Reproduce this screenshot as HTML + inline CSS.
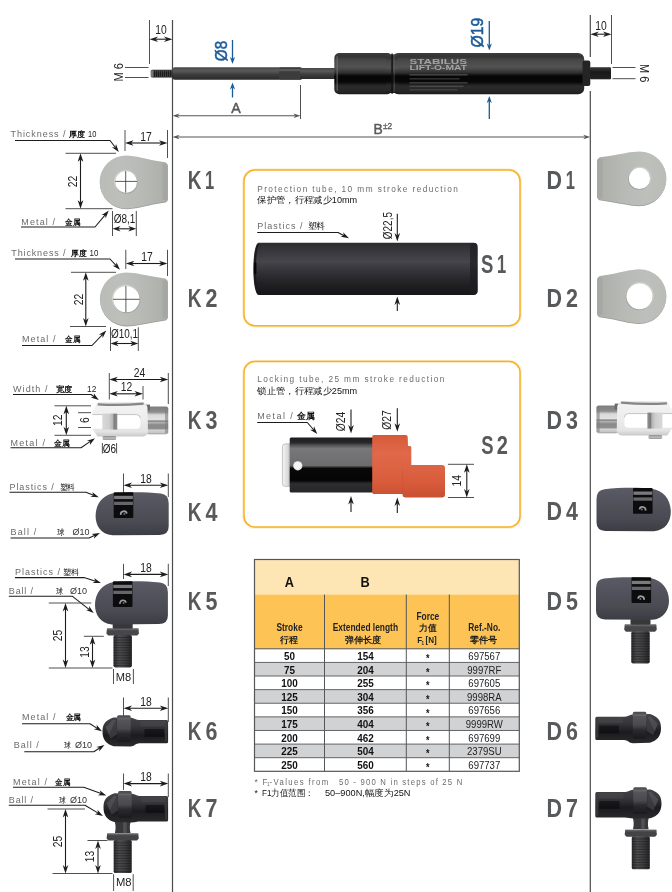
<!DOCTYPE html>
<html><head><meta charset="utf-8"><title>Gas spring end fittings</title>
<style>
html,body{margin:0;padding:0;background:#fff;}
body{width:672px;height:892px;overflow:hidden;font-family:"Liberation Sans",sans-serif;}
svg{display:block;will-change:transform;}
text{font-family:"Liberation Sans",sans-serif;}
</style></head><body>
<svg width="672" height="892" viewBox="0 0 672 892">
<rect width="672" height="892" fill="#fff"/>
<!-- top -->
<defs>
<linearGradient id="gCyl" x1="0" y1="0" x2="0" y2="1">
<stop offset="0" stop-color="#3d3d3d"/><stop offset="0.08" stop-color="#333"/>
<stop offset="0.18" stop-color="#484848"/><stop offset="0.34" stop-color="#525252"/>
<stop offset="0.47" stop-color="#333"/><stop offset="0.56" stop-color="#060606"/>
<stop offset="0.70" stop-color="#080808"/><stop offset="0.8" stop-color="#2b2b2b"/>
<stop offset="0.93" stop-color="#262626"/><stop offset="1" stop-color="#1a1a1a"/>
</linearGradient>
<linearGradient id="gRod" x1="0" y1="0" x2="0" y2="1">
<stop offset="0" stop-color="#474747"/><stop offset="0.28" stop-color="#5a5a5a"/>
<stop offset="0.62" stop-color="#3a3a3a"/><stop offset="1" stop-color="#2b2b2b"/>
</linearGradient>
<linearGradient id="gThr" x1="0" y1="0" x2="0" y2="1">
<stop offset="0" stop-color="#3a3a3a"/><stop offset="0.4" stop-color="#1a1a1a"/><stop offset="1" stop-color="#222"/>
</linearGradient>
</defs>
<path d="M172.5 20L172.5 892" stroke="#4a4a4a" stroke-width="1.2" fill="none"/>
<path d="M590.3 15L590.3 57" stroke="#4a4a4a" stroke-width="1.2" fill="none"/>
<path d="M590.3 91L590.3 892" stroke="#4a4a4a" stroke-width="1.2" fill="none"/>
<path d="M149.5 20L149.5 64" stroke="#3c3c3c" stroke-width="0.9" fill="none"/>
<path d="M155.45 39.2L166.55 39.2" stroke="#222" stroke-width="1.1" fill="none"/><path d="M172.5 39.2L164 42L166.38 39.2L164 36.4Z" fill="#222"/><path d="M149.5 39.2L158 36.4L155.62 39.2L158 42Z" fill="#222"/>
<text transform="translate(161 33.8) scale(0.86 1)" font-family="Liberation Sans, sans-serif" font-size="12" fill="#222" text-anchor="middle">10</text>
<path d="M125 67.5L148.5 67.5" stroke="#3c3c3c" stroke-width="0.9" fill="none"/>
<path d="M125 77.5L148.5 77.5" stroke="#3c3c3c" stroke-width="0.9" fill="none"/>
<text transform="translate(122.6 72.3) rotate(-90) scale(0.92 1)" font-family="Liberation Sans, sans-serif" font-size="12" fill="#222" text-anchor="middle">M 6</text>
<rect x="151" y="69.8" width="22" height="7.6" rx="1" fill="url(#gThr)"/>
<rect x="150.6" y="70.3" width="3" height="6.6" rx="1" fill="#777"/>
<rect x="155" y="69.8" width="0.8" height="7.6" fill="#555" opacity="0.7"/>
<rect x="157" y="69.8" width="0.8" height="7.6" fill="#555" opacity="0.7"/>
<rect x="159" y="69.8" width="0.8" height="7.6" fill="#555" opacity="0.7"/>
<rect x="161" y="69.8" width="0.8" height="7.6" fill="#555" opacity="0.7"/>
<rect x="163" y="69.8" width="0.8" height="7.6" fill="#555" opacity="0.7"/>
<rect x="165" y="69.8" width="0.8" height="7.6" fill="#555" opacity="0.7"/>
<rect x="167" y="69.8" width="0.8" height="7.6" fill="#555" opacity="0.7"/>
<rect x="169" y="69.8" width="0.8" height="7.6" fill="#555" opacity="0.7"/>
<rect x="171" y="69.8" width="0.8" height="7.6" fill="#555" opacity="0.7"/>
<rect x="591.5" y="67.3" width="0.8" height="12" fill="#4e4e4e" opacity="0.7"/>
<rect x="593.5" y="67.3" width="0.8" height="12" fill="#4e4e4e" opacity="0.7"/>
<rect x="595.5" y="67.3" width="0.8" height="12" fill="#4e4e4e" opacity="0.7"/>
<rect x="597.5" y="67.3" width="0.8" height="12" fill="#4e4e4e" opacity="0.7"/>
<rect x="599.5" y="67.3" width="0.8" height="12" fill="#4e4e4e" opacity="0.7"/>
<rect x="601.5" y="67.3" width="0.8" height="12" fill="#4e4e4e" opacity="0.7"/>
<rect x="603.5" y="67.3" width="0.8" height="12" fill="#4e4e4e" opacity="0.7"/>
<rect x="605.5" y="67.3" width="0.8" height="12" fill="#4e4e4e" opacity="0.7"/>
<rect x="607.5" y="67.3" width="0.8" height="12" fill="#4e4e4e" opacity="0.7"/>
<rect x="609.5" y="67.3" width="0.8" height="12" fill="#4e4e4e" opacity="0.7"/>
<rect x="172.5" y="67.2" width="130" height="12.6" rx="2.5" fill="url(#gRod)"/>
<rect x="279" y="67.6" width="23" height="11.8" rx="2" fill="#3c3c3c"/>
<rect x="279" y="69" width="22" height="2.2" fill="#5a5a5a"/>
<rect x="300" y="68" width="36" height="11" fill="url(#gRod)"/>
<rect x="334.3" y="53" width="58" height="41.3" rx="5" fill="url(#gCyl)"/>
<rect x="392.2" y="53" width="192" height="41.3" rx="6" fill="url(#gCyl)"/>
<rect x="386" y="54.5" width="12" height="38.5" fill="url(#gCyl)"/>
<rect x="391.3" y="53.5" width="1.6" height="40.3" fill="#111" opacity="0.85"/>
<rect x="336.4" y="56" width="1.6" height="35" rx="0.8" fill="#777" opacity="0.55"/>
<rect x="393.6" y="55" width="1.2" height="37" fill="#6a6a6a" opacity="0.45"/>
<rect x="582.5" y="60.5" width="7.8" height="25.5" rx="2" fill="#242424"/>
<rect x="590" y="67.3" width="21" height="12" rx="1" fill="url(#gThr)"/>
<text transform="translate(409.5 64.4)" font-family="Liberation Sans, sans-serif" font-size="6.4" fill="#a4a4a4" text-anchor="start" font-weight="bold" textLength="57.5" lengthAdjust="spacingAndGlyphs">STABILUS</text>
<text transform="translate(409.5 70.4)" font-family="Liberation Sans, sans-serif" font-size="6.4" fill="#a4a4a4" text-anchor="start" font-weight="bold" textLength="57.5" lengthAdjust="spacingAndGlyphs">LIFT-O-MAT</text>
<rect x="409.5" y="74" width="58" height="1.6" fill="#9a9a9a" opacity="0.33"/>
<rect x="409.5" y="78" width="50" height="1.6" fill="#9a9a9a" opacity="0.26"/>
<rect x="409.5" y="82" width="58" height="1.6" fill="#9a9a9a" opacity="0.3"/>
<rect x="409.5" y="85.5" width="54" height="1.6" fill="#9a9a9a" opacity="0.26"/>
<rect x="409.5" y="89" width="48" height="1.6" fill="#9a9a9a" opacity="0.2"/>
<path d="M611.5 15L611.5 64" stroke="#3c3c3c" stroke-width="0.9" fill="none"/>
<path d="M596.25 34.2L605.55 34.2" stroke="#222" stroke-width="1.1" fill="none"/><path d="M611.5 34.2L603 37L605.38 34.2L603 31.4Z" fill="#222"/><path d="M590.3 34.2L598.8 31.4L596.42 34.2L598.8 37Z" fill="#222"/>
<text transform="translate(601 29.6) scale(0.86 1)" font-family="Liberation Sans, sans-serif" font-size="12" fill="#222" text-anchor="middle">10</text>
<path d="M612.5 67.5L635.5 67.5" stroke="#3c3c3c" stroke-width="0.9" fill="none"/>
<path d="M612.5 78.7L635.5 78.7" stroke="#3c3c3c" stroke-width="0.9" fill="none"/>
<text transform="translate(640.2 73.2) rotate(90) scale(0.92 1)" font-family="Liberation Sans, sans-serif" font-size="12" fill="#222" text-anchor="middle">M 6</text>
<text transform="translate(227.4 51) rotate(-90) scale(0.95 1)" font-family="Liberation Sans, sans-serif" font-size="16" fill="#1b5a98" text-anchor="middle" stroke="#1b5a98" stroke-width="0.55">Ø8</text>
<path d="M232.5 40L232.5 59.1" stroke="#1b5a98" stroke-width="1.3" fill="none"/><path d="M232.5 64L229.9 57L232.5 58.96L235.1 57Z" fill="#1b5a98"/>
<path d="M232.5 97.5L232.5 87.4" stroke="#1b5a98" stroke-width="1.3" fill="none"/><path d="M232.5 82.5L235.1 89.5L232.5 87.54L229.9 89.5Z" fill="#1b5a98"/>
<text transform="translate(482.6 32.6) rotate(-90) scale(0.98 1)" font-family="Liberation Sans, sans-serif" font-size="16" fill="#1b5a98" text-anchor="middle" stroke="#1b5a98" stroke-width="0.55">Ø19</text>
<path d="M489.3 21L489.3 45.6" stroke="#1b5a98" stroke-width="1.3" fill="none"/><path d="M489.3 50.5L486.7 43.5L489.3 45.46L491.9 43.5Z" fill="#1b5a98"/>
<path d="M489.3 119L489.3 100.9" stroke="#1b5a98" stroke-width="1.3" fill="none"/><path d="M489.3 96L491.9 103L489.3 101.04L486.7 103Z" fill="#1b5a98"/>
<path d="M300.5 85L300.5 119" stroke="#3c3c3c" stroke-width="0.9" fill="none"/>
<path d="M177.4 115.8L295.6 115.8" stroke="#555" stroke-width="1.1" fill="none"/><path d="M300.5 115.8L293.5 118.1L295.46 115.8L293.5 113.5Z" fill="#555"/><path d="M172.5 115.8L179.5 113.5L177.54 115.8L179.5 118.1Z" fill="#555"/>
<text transform="translate(236 112.6) scale(0.95 1)" font-family="Liberation Sans, sans-serif" font-size="15" fill="#58595b" text-anchor="middle" stroke="#58595b" stroke-width="0.5">A</text>
<path d="M177.4 137L585.4 137" stroke="#555" stroke-width="1.1" fill="none"/><path d="M590.3 137L583.3 139.3L585.26 137L583.3 134.7Z" fill="#555"/><path d="M172.5 137L179.5 134.7L177.54 137L179.5 139.3Z" fill="#555"/>
<text transform="translate(373.5 134) scale(0.9 1)" font-family="Liberation Sans, sans-serif" font-size="15.4" fill="#58595b" text-anchor="start" stroke="#58595b" stroke-width="0.5">B</text>
<text transform="translate(383 128.6) scale(0.95 1)" font-family="Liberation Sans, sans-serif" font-size="8.8" fill="#58595b" text-anchor="start" stroke="#58595b" stroke-width="0.3">±2</text>
<!-- left -->
<defs>
<linearGradient id="gEye" x1="0" y1="0" x2="1" y2="0"><stop offset="0" stop-color="#babcb8"/><stop offset="0.3" stop-color="#bdbfbb"/><stop offset="0.6" stop-color="#b8bab6"/><stop offset="1" stop-color="#acaeaa"/></linearGradient>
<linearGradient id="gSock" x1="0" y1="0" x2="0" y2="1"><stop offset="0" stop-color="#5b5b66"/><stop offset="0.25" stop-color="#54545e"/><stop offset="0.7" stop-color="#4a4a53"/><stop offset="1" stop-color="#3c3c44"/></linearGradient>
<linearGradient id="gStud" x1="0" y1="0" x2="1" y2="0"><stop offset="0" stop-color="#2a2a2c"/><stop offset="0.3" stop-color="#4e4e51"/><stop offset="0.6" stop-color="#414144"/><stop offset="1" stop-color="#242426"/></linearGradient>
<linearGradient id="gMet" x1="0" y1="0" x2="0" y2="1"><stop offset="0" stop-color="#434347"/><stop offset="0.3" stop-color="#37373b"/><stop offset="0.62" stop-color="#1c1c1f"/><stop offset="1" stop-color="#2a2a2d"/></linearGradient>
<linearGradient id="gCol" x1="0" y1="0" x2="0" y2="1"><stop offset="0" stop-color="#4b4b4f"/><stop offset="0.12" stop-color="#58585c"/><stop offset="0.5" stop-color="#4a4a4e"/><stop offset="0.68" stop-color="#2a2a2d"/><stop offset="1" stop-color="#1a1a1c"/></linearGradient>
<linearGradient id="gNut" x1="0" y1="0" x2="0" y2="1"><stop offset="0" stop-color="#7e7e7e"/><stop offset="0.2" stop-color="#8c8c8c"/><stop offset="0.3" stop-color="#d9d9d9"/><stop offset="0.48" stop-color="#e2e2e2"/><stop offset="0.52" stop-color="#7c7c7c"/><stop offset="0.58" stop-color="#b4b4b4"/><stop offset="0.66" stop-color="#8a8a8a"/><stop offset="0.8" stop-color="#8e8e8e"/><stop offset="0.85" stop-color="#d4d4d4"/><stop offset="0.96" stop-color="#c4c4c4"/><stop offset="1" stop-color="#8a8a8a"/></linearGradient>
<linearGradient id="gClev" x1="0" y1="0" x2="0" y2="1"><stop offset="0" stop-color="#dcdcdc"/><stop offset="0.12" stop-color="#f2f2f2"/><stop offset="0.5" stop-color="#ededed"/><stop offset="0.85" stop-color="#e4e4e4"/><stop offset="1" stop-color="#c8c8c8"/></linearGradient>
<linearGradient id="gPin" x1="0" y1="0" x2="1" y2="0"><stop offset="0" stop-color="#d8d8d8"/><stop offset="0.45" stop-color="#cfcfcf"/><stop offset="0.7" stop-color="#b5b5b5"/><stop offset="0.78" stop-color="#7d7d7d"/><stop offset="1" stop-color="#8d8d8d"/></linearGradient>
<linearGradient id="gPinH" x1="0" y1="0" x2="0" y2="1"><stop offset="0" stop-color="#8a8a8a"/><stop offset="0.5" stop-color="#bdbdbd"/><stop offset="1" stop-color="#9a9a9a"/></linearGradient>
</defs>
<text transform="translate(10.5 137.3)" font-family="Liberation Sans, sans-serif" font-size="9" fill="#6a6b6d" text-anchor="start" textLength="55" lengthAdjust="spacing">Thickness /</text>
<text transform="translate(68.8 137.3)" font-family="Liberation Sans, sans-serif" font-size="8.2" fill="#111" text-anchor="start" font-weight="bold" textLength="16.2" lengthAdjust="spacingAndGlyphs">厚度</text>
<text transform="translate(88 137.3)" font-family="Liberation Sans, sans-serif" font-size="8.8" fill="#1a1a1a" text-anchor="start" textLength="8.3" lengthAdjust="spacingAndGlyphs">10</text>
<path d="M15 140.5L110 140.5L115.4 147.55" stroke="#1c1c1c" stroke-width="1.05" fill="none" stroke-linejoin="round"/><path d="M118.8 152L111.87 147.23L115.3 147.43L116 144.07Z" fill="#1c1c1c"/>
<path d="M125 130L125 151" stroke="#3c3c3c" stroke-width="0.9" fill="none"/>
<path d="M167.5 130L167.5 158" stroke="#3c3c3c" stroke-width="0.9" fill="none"/>
<path d="M130.95 143L161.55 143" stroke="#1c1c1c" stroke-width="1.1" fill="none"/><path d="M167.5 143L159 145.8L161.38 143L159 140.2Z" fill="#1c1c1c"/><path d="M125 143L133.5 140.2L131.12 143L133.5 145.8Z" fill="#1c1c1c"/>
<text transform="translate(146 140.6) scale(0.86 1)" font-family="Liberation Sans, sans-serif" font-size="12" fill="#222" text-anchor="middle">17</text>
<path d="M65.5 153.3L116 153.3" stroke="#3c3c3c" stroke-width="0.9" fill="none"/>
<path d="M65.5 208.7L112.5 208.7" stroke="#3c3c3c" stroke-width="0.9" fill="none"/>
<path d="M80.5 159.25L80.5 202.75" stroke="#1c1c1c" stroke-width="1.1" fill="none"/><path d="M80.5 208.7L77.7 200.2L80.5 202.58L83.3 200.2Z" fill="#1c1c1c"/><path d="M80.5 153.3L83.3 161.8L80.5 159.42L77.7 161.8Z" fill="#1c1c1c"/>
<text transform="translate(77.4 181.6) rotate(-90) scale(0.86 1)" font-family="Liberation Sans, sans-serif" font-size="12" fill="#222" text-anchor="middle">22</text>
<g><path d="M163.5 161.9C146.1 159.3 135.1 155.4 126.1 155.4A26.5 26.5 0 0 0 126.1 208.4C135.1 208.4 146.1 204.5 163.5 201.9Q167.5 201.6 167.5 197.9L167.5 165.9Q167.5 162.2 163.5 161.9Z" fill="#9b9d99" transform="translate(0.4 0.9)"/><path d="M163.5 161.9C146.1 159.3 135.1 155.4 126.1 155.4A26.5 26.5 0 0 0 126.1 208.4C135.1 208.4 146.1 204.5 163.5 201.9Q167.5 201.6 167.5 197.9L167.5 165.9Q167.5 162.2 163.5 161.9Z" fill="url(#gEye)"/><rect x="162.5" y="163.9" width="4.8" height="36" fill="#a0a29e" opacity="0.6"/><circle cx="125.8" cy="181.6" r="11.7" fill="#cfd1cd"/><circle cx="126.5" cy="182.4" r="11.3" fill="#a4a6a2"/><circle cx="126.1" cy="181.9" r="10.8" fill="#fff"/></g>
<path d="M115.2 181.4L137 181.4" stroke="#333" stroke-width="0.8" fill="none"/>
<path d="M125.7 171L125.7 192.6" stroke="#333" stroke-width="0.8" fill="none"/>
<text transform="translate(21.3 225)" font-family="Liberation Sans, sans-serif" font-size="9" fill="#6a6b6d" text-anchor="start" textLength="33.7" lengthAdjust="spacing">Metal /</text>
<text transform="translate(65 225)" font-family="Liberation Sans, sans-serif" font-size="8.2" fill="#111" text-anchor="start" font-weight="bold" textLength="15.2" lengthAdjust="spacingAndGlyphs">金属</text>
<path d="M21 227L95 227L105.21 214.8" stroke="#1c1c1c" stroke-width="1.05" fill="none" stroke-linejoin="round"/><path d="M108.8 210.5L105.66 218.3L105.1 214.92L101.67 214.97Z" fill="#1c1c1c"/>
<path d="M112.5 211L112.5 236" stroke="#3c3c3c" stroke-width="0.9" fill="none"/>
<path d="M136.3 211L136.3 236" stroke="#3c3c3c" stroke-width="0.9" fill="none"/>
<path d="M118.1 228.8L130.7 228.8" stroke="#1c1c1c" stroke-width="1.1" fill="none"/><path d="M136.3 228.8L128.3 231.5L130.54 228.8L128.3 226.1Z" fill="#1c1c1c"/><path d="M112.5 228.8L120.5 226.1L118.26 228.8L120.5 231.5Z" fill="#1c1c1c"/>
<text transform="translate(124.6 223) scale(0.83 1)" font-family="Liberation Sans, sans-serif" font-size="12" fill="#222" text-anchor="middle">Ø8,1</text>
<text transform="translate(187.75 188.8) scale(0.76 1)" font-family="Liberation Sans, sans-serif" font-size="25" fill="#58595b" text-anchor="start" font-weight="bold">K</text><text transform="translate(204.95 188.8) scale(0.66 1)" font-family="Liberation Sans, sans-serif" font-size="25" fill="#58595b" text-anchor="start" font-weight="bold">1</text>
<text transform="translate(11.3 256)" font-family="Liberation Sans, sans-serif" font-size="9" fill="#6a6b6d" text-anchor="start" textLength="54.2" lengthAdjust="spacing">Thickness /</text>
<text transform="translate(70.8 256)" font-family="Liberation Sans, sans-serif" font-size="8.2" fill="#111" text-anchor="start" font-weight="bold" textLength="15.6" lengthAdjust="spacingAndGlyphs">厚度</text>
<text transform="translate(89.5 256)" font-family="Liberation Sans, sans-serif" font-size="8.8" fill="#1a1a1a" text-anchor="start" textLength="8.8" lengthAdjust="spacingAndGlyphs">10</text>
<path d="M15 259L110 259L116.2 265.69" stroke="#1c1c1c" stroke-width="1.05" fill="none" stroke-linejoin="round"/><path d="M120 269.8L112.66 265.7L116.09 265.57L116.47 262.16Z" fill="#1c1c1c"/>
<path d="M125.8 249.8L125.8 269" stroke="#3c3c3c" stroke-width="0.9" fill="none"/>
<path d="M167.5 249.8L167.5 276" stroke="#3c3c3c" stroke-width="0.9" fill="none"/>
<path d="M131.75 263.5L161.55 263.5" stroke="#1c1c1c" stroke-width="1.1" fill="none"/><path d="M167.5 263.5L159 266.3L161.38 263.5L159 260.7Z" fill="#1c1c1c"/><path d="M125.8 263.5L134.3 260.7L131.92 263.5L134.3 266.3Z" fill="#1c1c1c"/>
<text transform="translate(147 261) scale(0.86 1)" font-family="Liberation Sans, sans-serif" font-size="12" fill="#222" text-anchor="middle">17</text>
<path d="M71 272.3L116 272.3" stroke="#3c3c3c" stroke-width="0.9" fill="none"/>
<path d="M70 326.5L106 326.5" stroke="#3c3c3c" stroke-width="0.9" fill="none"/>
<path d="M85.8 278.25L85.8 320.55" stroke="#1c1c1c" stroke-width="1.1" fill="none"/><path d="M85.8 326.5L83 318L85.8 320.38L88.6 318Z" fill="#1c1c1c"/><path d="M85.8 272.3L88.6 280.8L85.8 278.42L83 280.8Z" fill="#1c1c1c"/>
<text transform="translate(82.8 299.5) rotate(-90) scale(0.86 1)" font-family="Liberation Sans, sans-serif" font-size="12" fill="#222" text-anchor="middle">22</text>
<g><path d="M163.5 278.3C146.3 275.7 135.3 272.6 126.3 272.6A26.5 26.5 0 0 0 126.3 325.6C135.3 325.6 146.3 322.5 163.5 319.9Q167.5 319.6 167.5 315.9L167.5 282.3Q167.5 278.6 163.5 278.3Z" fill="#9b9d99" transform="translate(0.4 0.9)"/><path d="M163.5 278.3C146.3 275.7 135.3 272.6 126.3 272.6A26.5 26.5 0 0 0 126.3 325.6C135.3 325.6 146.3 322.5 163.5 319.9Q167.5 319.6 167.5 315.9L167.5 282.3Q167.5 278.6 163.5 278.3Z" fill="url(#gEye)"/><rect x="162.5" y="280.3" width="4.8" height="37.6" fill="#a0a29e" opacity="0.6"/><circle cx="126" cy="298.8" r="14.1" fill="#cfd1cd"/><circle cx="126.7" cy="299.6" r="13.7" fill="#a4a6a2"/><circle cx="126.3" cy="299.1" r="13.2" fill="#fff"/></g>
<path d="M113 299.3L139.6 299.3" stroke="#333" stroke-width="0.8" fill="none"/>
<path d="M125.9 286L125.9 312.4" stroke="#333" stroke-width="0.8" fill="none"/>
<text transform="translate(22 342.2)" font-family="Liberation Sans, sans-serif" font-size="9" fill="#6a6b6d" text-anchor="start" textLength="33.5" lengthAdjust="spacing">Metal /</text>
<text transform="translate(65 342.2)" font-family="Liberation Sans, sans-serif" font-size="8.2" fill="#111" text-anchor="start" font-weight="bold" textLength="15.2" lengthAdjust="spacingAndGlyphs">金属</text>
<path d="M22 345.5L92 345.5L102.44 334.55" stroke="#1c1c1c" stroke-width="1.05" fill="none" stroke-linejoin="round"/><path d="M106.3 330.5L102.66 338.08L102.33 334.67L98.9 334.5Z" fill="#1c1c1c"/>
<path d="M110.5 327.3L110.5 351" stroke="#3c3c3c" stroke-width="0.9" fill="none"/>
<path d="M138.3 327.3L138.3 351" stroke="#3c3c3c" stroke-width="0.9" fill="none"/>
<path d="M116.1 343.5L132.7 343.5" stroke="#1c1c1c" stroke-width="1.1" fill="none"/><path d="M138.3 343.5L130.3 346.2L132.54 343.5L130.3 340.8Z" fill="#1c1c1c"/><path d="M110.5 343.5L118.5 340.8L116.26 343.5L118.5 346.2Z" fill="#1c1c1c"/>
<text transform="translate(124.6 337.8) scale(0.83 1)" font-family="Liberation Sans, sans-serif" font-size="12" fill="#222" text-anchor="middle">Ø10,1</text>
<text transform="translate(187.75 307.3) scale(0.76 1)" font-family="Liberation Sans, sans-serif" font-size="25" fill="#58595b" text-anchor="start" font-weight="bold">K</text><text transform="translate(205.55 307.3) scale(0.86 1)" font-family="Liberation Sans, sans-serif" font-size="25" fill="#58595b" text-anchor="start" font-weight="bold">2</text>
<path d="M109.3 373L109.3 399.5" stroke="#3c3c3c" stroke-width="0.9" fill="none"/>
<path d="M168.3 373L168.3 404" stroke="#3c3c3c" stroke-width="0.9" fill="none"/>
<path d="M115.25 379.5L162.35 379.5" stroke="#1c1c1c" stroke-width="1.1" fill="none"/><path d="M168.3 379.5L159.8 382.3L162.18 379.5L159.8 376.7Z" fill="#1c1c1c"/><path d="M109.3 379.5L117.8 376.7L115.42 379.5L117.8 382.3Z" fill="#1c1c1c"/>
<text transform="translate(139.5 377) scale(0.86 1)" font-family="Liberation Sans, sans-serif" font-size="12" fill="#222" text-anchor="middle">24</text>
<path d="M143 386L143 399.5" stroke="#3c3c3c" stroke-width="0.9" fill="none"/>
<path d="M115.25 393.8L137.05 393.8" stroke="#1c1c1c" stroke-width="1.1" fill="none"/><path d="M143 393.8L134.5 396.6L136.88 393.8L134.5 391Z" fill="#1c1c1c"/><path d="M109.3 393.8L117.8 391L115.42 393.8L117.8 396.6Z" fill="#1c1c1c"/>
<text transform="translate(126.6 390.8) scale(0.86 1)" font-family="Liberation Sans, sans-serif" font-size="12" fill="#222" text-anchor="middle">12</text>
<text transform="translate(13 392)" font-family="Liberation Sans, sans-serif" font-size="9" fill="#6a6b6d" text-anchor="start" textLength="34.5" lengthAdjust="spacing">Width /</text>
<text transform="translate(55.5 392)" font-family="Liberation Sans, sans-serif" font-size="8.2" fill="#111" text-anchor="start" font-weight="bold" textLength="16.5" lengthAdjust="spacingAndGlyphs">宽度</text>
<text transform="translate(87 392)" font-family="Liberation Sans, sans-serif" font-size="8.8" fill="#1a1a1a" text-anchor="start" textLength="9.3" lengthAdjust="spacingAndGlyphs">12</text>
<path d="M13 394.5L91 394.5L94.22 396.77" stroke="#1c1c1c" stroke-width="1.05" fill="none" stroke-linejoin="round"/><path d="M98.8 400L90.76 397.51L94.09 396.68L93.76 393.26Z" fill="#1c1c1c"/>
<path d="M54.5 405.8L91 405.8" stroke="#3c3c3c" stroke-width="0.9" fill="none"/>
<path d="M54.5 435.3L91 435.3" stroke="#3c3c3c" stroke-width="0.9" fill="none"/>
<path d="M66.3 411.75L66.3 429.35" stroke="#1c1c1c" stroke-width="1.1" fill="none"/><path d="M66.3 435.3L63.5 426.8L66.3 429.18L69.1 426.8Z" fill="#1c1c1c"/><path d="M66.3 405.8L69.1 414.3L66.3 411.92L63.5 414.3Z" fill="#1c1c1c"/>
<text transform="translate(62.4 420.3) rotate(-90) scale(0.86 1)" font-family="Liberation Sans, sans-serif" font-size="12" fill="#222" text-anchor="middle">12</text>
<path d="M78.1 412.7L91 412.7" stroke="#3c3c3c" stroke-width="0.9" fill="none"/>
<path d="M78.1 427.5L91 427.5" stroke="#3c3c3c" stroke-width="0.9" fill="none"/>
<text transform="translate(88.7 420.2) rotate(-90) scale(0.86 1)" font-family="Liberation Sans, sans-serif" font-size="12" fill="#222" text-anchor="middle">6</text>
<g><rect x="146.5" y="406.6" width="21.7" height="27.6" rx="2" fill="url(#gNut)"/><rect x="165" y="408" width="3.2" height="25" fill="#7f7f7f" opacity="0.6"/><rect x="145" y="404.6" width="5" height="6" fill="#6a6a6a"/><path d="M97.5 402.6L142 402.2Q146 402.4 147.4 407L148 432Q147 436.4 142.5 436.6L97.5 436.6L92.3 428.8L92.3 411.5Z" fill="url(#gClev)"/><path d="M97.8 404.3Q120 405.8 143.6 403.6" stroke="#868686" stroke-width="2.2" fill="none"/><path d="M91 414.6L136.5 414.6Q140.3 414.8 140.3 418.5L140.3 425Q140.3 428.6 136.5 428.8L91 428.8Z" fill="#fff"/><path d="M92.3 414.6L136.5 414.6Q140.3 414.8 140.3 418.5" stroke="#b5b5b5" stroke-width="0.8" fill="none"/><rect x="102.3" y="413.6" width="15" height="16" fill="url(#gPin)"/><rect x="102.6" y="436" width="13.6" height="4" rx="1.3" fill="url(#gPinH)"/></g>
<text transform="translate(10.5 445.6)" font-family="Liberation Sans, sans-serif" font-size="9" fill="#6a6b6d" text-anchor="start" textLength="34.5" lengthAdjust="spacing">Metal /</text>
<text transform="translate(53.8 445.6)" font-family="Liberation Sans, sans-serif" font-size="8.2" fill="#111" text-anchor="start" font-weight="bold" textLength="15.7" lengthAdjust="spacingAndGlyphs">金属</text>
<path d="M10.5 447.8L81 447.8L90.37 441.44" stroke="#1c1c1c" stroke-width="1.05" fill="none" stroke-linejoin="round"/><path d="M95 438.3L89.84 444.94L90.23 441.53L86.92 440.64Z" fill="#1c1c1c"/>
<path d="M102.4 443L102.4 453.5" stroke="#3c3c3c" stroke-width="0.9" fill="none"/>
<path d="M116.6 443L116.6 453.5" stroke="#3c3c3c" stroke-width="0.9" fill="none"/>
<text transform="translate(109.5 452.6) scale(0.83 1)" font-family="Liberation Sans, sans-serif" font-size="12" fill="#222" text-anchor="middle">Ø6</text>
<text transform="translate(187.75 428.8) scale(0.76 1)" font-family="Liberation Sans, sans-serif" font-size="25" fill="#58595b" text-anchor="start" font-weight="bold">K</text><text transform="translate(205.55 428.8) scale(0.86 1)" font-family="Liberation Sans, sans-serif" font-size="25" fill="#58595b" text-anchor="start" font-weight="bold">3</text>
<path d="M123.5 473.5L123.5 497" stroke="#3c3c3c" stroke-width="0.9" fill="none"/>
<path d="M168.3 473.5L168.3 497" stroke="#3c3c3c" stroke-width="0.9" fill="none"/>
<path d="M129.45 485.3L162.35 485.3" stroke="#1c1c1c" stroke-width="1.1" fill="none"/><path d="M168.3 485.3L159.8 488.1L162.18 485.3L159.8 482.5Z" fill="#1c1c1c"/><path d="M123.5 485.3L132 482.5L129.62 485.3L132 488.1Z" fill="#1c1c1c"/>
<text transform="translate(146 483) scale(0.86 1)" font-family="Liberation Sans, sans-serif" font-size="12" fill="#222" text-anchor="middle">18</text>
<text transform="translate(9.5 489.8)" font-family="Liberation Sans, sans-serif" font-size="9" fill="#6a6b6d" text-anchor="start" textLength="44.3" lengthAdjust="spacing">Plastics /</text>
<text transform="translate(59.5 489.8)" font-family="Liberation Sans, sans-serif" font-size="8.2" fill="#111" text-anchor="start" textLength="15.5" lengthAdjust="spacingAndGlyphs">塑料</text>
<path d="M9.5 492.3L86 492.3L93.58 495.26" stroke="#1c1c1c" stroke-width="1.05" fill="none" stroke-linejoin="round"/><path d="M98.8 497.3L90.4 496.81L93.43 495.2L92.29 491.97Z" fill="#1c1c1c"/>
<g><path d="M114.6 493.1C125.6 491.9 145.6 491.7 160.7 493.5Q168.7 494.3 168.7 503.3L168.7 526.2Q168.7 534.7 159.7 534.9L112.6 535.2C100.6 534.2 95.6 525.2 95.6 515.89C95.6 504.3 102.6 494.8 114.6 493.1Z" fill="url(#gSock)"/><rect x="113.7" y="492.3" width="19.6" height="25.8" rx="1" fill="#0c0c0e"/><rect x="114.1" y="495.8" width="18.8" height="3.3" fill="#7b7b7f"/><rect x="114.1" y="501.7" width="18.8" height="3.3" fill="#66666a"/><path d="M120.8 514.9A3 3 0 1 1 126.8 513.7" stroke="#9c9ca2" stroke-width="1.7" fill="none"/><circle cx="124.4" cy="513.9" r="1" fill="#6e6e73"/></g>
<text transform="translate(10.5 535)" font-family="Liberation Sans, sans-serif" font-size="9" fill="#6a6b6d" text-anchor="start" textLength="25.8" lengthAdjust="spacing">Ball /</text>
<text transform="translate(57 535)" font-family="Liberation Sans, sans-serif" font-size="8.2" fill="#111" text-anchor="start" textLength="7.5" lengthAdjust="spacingAndGlyphs">球</text>
<text transform="translate(72.5 535)" font-family="Liberation Sans, sans-serif" font-size="9" fill="#333" text-anchor="start" textLength="17" lengthAdjust="spacingAndGlyphs">Ø10</text>
<path d="M10.5 538L89 538L94.9 535.32" stroke="#1c1c1c" stroke-width="1.05" fill="none" stroke-linejoin="round"/><path d="M100 533L93.79 538.68L94.76 535.38L91.64 533.94Z" fill="#1c1c1c"/>
<text transform="translate(187.75 520.5) scale(0.76 1)" font-family="Liberation Sans, sans-serif" font-size="25" fill="#58595b" text-anchor="start" font-weight="bold">K</text><text transform="translate(205.55 520.5) scale(0.86 1)" font-family="Liberation Sans, sans-serif" font-size="25" fill="#58595b" text-anchor="start" font-weight="bold">4</text>
<path d="M123.5 563.8L123.5 579" stroke="#3c3c3c" stroke-width="0.9" fill="none"/>
<path d="M168.3 563.8L168.3 586" stroke="#3c3c3c" stroke-width="0.9" fill="none"/>
<path d="M129.45 574.4L162.35 574.4" stroke="#1c1c1c" stroke-width="1.1" fill="none"/><path d="M168.3 574.4L159.8 577.2L162.18 574.4L159.8 571.6Z" fill="#1c1c1c"/><path d="M123.5 574.4L132 571.6L129.62 574.4L132 577.2Z" fill="#1c1c1c"/>
<text transform="translate(146 572) scale(0.86 1)" font-family="Liberation Sans, sans-serif" font-size="12" fill="#222" text-anchor="middle">18</text>
<text transform="translate(15 575.4)" font-family="Liberation Sans, sans-serif" font-size="9" fill="#6a6b6d" text-anchor="start" textLength="45" lengthAdjust="spacing">Plastics /</text>
<text transform="translate(62.5 575.4)" font-family="Liberation Sans, sans-serif" font-size="8.2" fill="#111" text-anchor="start" textLength="16.2" lengthAdjust="spacingAndGlyphs">塑料</text>
<path d="M15 577.6L84 577.6L95.66 581.3" stroke="#1c1c1c" stroke-width="1.05" fill="none" stroke-linejoin="round"/><path d="M101 583L92.59 583.06L95.51 581.26L94.16 578.1Z" fill="#1c1c1c"/>
<text transform="translate(8.8 593.6)" font-family="Liberation Sans, sans-serif" font-size="9" fill="#6a6b6d" text-anchor="start" textLength="24.2" lengthAdjust="spacing">Ball /</text>
<text transform="translate(55.5 593.6)" font-family="Liberation Sans, sans-serif" font-size="8.2" fill="#111" text-anchor="start" textLength="7" lengthAdjust="spacingAndGlyphs">球</text>
<text transform="translate(70 593.6)" font-family="Liberation Sans, sans-serif" font-size="9" fill="#333" text-anchor="start" textLength="17" lengthAdjust="spacingAndGlyphs">Ø10</text>
<path d="M8.8 596.3L72.5 596.3L89.39 609.54" stroke="#1c1c1c" stroke-width="1.05" fill="none" stroke-linejoin="round"/><path d="M93.8 613L85.9 610.11L89.27 609.45L89.11 606.02Z" fill="#1c1c1c"/>
<rect x="112.7" y="621.9" width="20" height="7" rx="1.5" fill="#38383b"/><path d="M107 628.4h31.4l0.6 5.2l-1.8 2h-29l-1.8 -2z" fill="#47474a"/><rect x="107" y="628.6" width="31.4" height="1.6" fill="#626265"/><rect x="113.5" y="635.1" width="18.4" height="32.3" rx="1.8" fill="url(#gStud)"/><rect x="113.5" y="637" width="18.4" height="1" fill="#1e1e1e" opacity="0.55"/><rect x="113.5" y="639.55" width="18.4" height="1" fill="#1e1e1e" opacity="0.55"/><rect x="113.5" y="642.1" width="18.4" height="1" fill="#1e1e1e" opacity="0.55"/><rect x="113.5" y="644.65" width="18.4" height="1" fill="#1e1e1e" opacity="0.55"/><rect x="113.5" y="647.2" width="18.4" height="1" fill="#1e1e1e" opacity="0.55"/><rect x="113.5" y="649.75" width="18.4" height="1" fill="#1e1e1e" opacity="0.55"/><rect x="113.5" y="652.3" width="18.4" height="1" fill="#1e1e1e" opacity="0.55"/><rect x="113.5" y="654.85" width="18.4" height="1" fill="#1e1e1e" opacity="0.55"/><rect x="113.5" y="657.4" width="18.4" height="1" fill="#1e1e1e" opacity="0.55"/><rect x="113.5" y="659.95" width="18.4" height="1" fill="#1e1e1e" opacity="0.55"/><rect x="113.5" y="662.5" width="18.4" height="1" fill="#1e1e1e" opacity="0.55"/><rect x="113.5" y="665.05" width="18.4" height="1" fill="#1e1e1e" opacity="0.55"/>
<g><path d="M114 582.1C125 580.9 145 580.7 159.9 582.5Q167.9 583.3 167.9 592.3L167.9 615.4Q167.9 623.9 158.9 624.1L112 624.4C100 623.4 95 614.4 95 605C95 593.3 102 583.8 114 582.1Z" fill="url(#gSock)"/><rect x="112.9" y="581.3" width="19.6" height="25.8" rx="1" fill="#0c0c0e"/><rect x="113.3" y="584.8" width="18.8" height="3.3" fill="#7b7b7f"/><rect x="113.3" y="590.7" width="18.8" height="3.3" fill="#66666a"/><path d="M120 603.9A3 3 0 1 1 126 602.7" stroke="#9c9ca2" stroke-width="1.7" fill="none"/><circle cx="123.6" cy="602.9" r="1" fill="#6e6e73"/></g>
<path d="M48.8 603L91.3 603" stroke="#3c3c3c" stroke-width="0.9" fill="none"/>
<path d="M48.8 668L112.5 668" stroke="#3c3c3c" stroke-width="0.9" fill="none"/>
<path d="M65.5 608.95L65.5 662.05" stroke="#1c1c1c" stroke-width="1.1" fill="none"/><path d="M65.5 668L62.7 659.5L65.5 661.88L68.3 659.5Z" fill="#1c1c1c"/><path d="M65.5 603L68.3 611.5L65.5 609.12L62.7 611.5Z" fill="#1c1c1c"/>
<text transform="translate(62.4 635.6) rotate(-90) scale(0.86 1)" font-family="Liberation Sans, sans-serif" font-size="12" fill="#222" text-anchor="middle">25</text>
<path d="M83.8 636.3L103.8 636.3" stroke="#3c3c3c" stroke-width="0.9" fill="none"/>
<path d="M92.5 642.25L92.5 662.05" stroke="#1c1c1c" stroke-width="1.1" fill="none"/><path d="M92.5 668L89.7 659.5L92.5 661.88L95.3 659.5Z" fill="#1c1c1c"/><path d="M92.5 636.3L95.3 644.8L92.5 642.42L89.7 644.8Z" fill="#1c1c1c"/>
<text transform="translate(89.4 652) rotate(-90) scale(0.86 1)" font-family="Liberation Sans, sans-serif" font-size="12" fill="#222" text-anchor="middle">13</text>
<path d="M113.5 669L113.5 684" stroke="#3c3c3c" stroke-width="0.9" fill="none"/>
<path d="M133.4 669L133.4 684" stroke="#3c3c3c" stroke-width="0.9" fill="none"/>
<text transform="translate(115.8 680.8)" font-family="Liberation Sans, sans-serif" font-size="11.6" fill="#222" text-anchor="start" textLength="15.4" lengthAdjust="spacingAndGlyphs">M8</text>
<text transform="translate(187.75 609.6) scale(0.76 1)" font-family="Liberation Sans, sans-serif" font-size="25" fill="#58595b" text-anchor="start" font-weight="bold">K</text><text transform="translate(205.55 609.6) scale(0.86 1)" font-family="Liberation Sans, sans-serif" font-size="25" fill="#58595b" text-anchor="start" font-weight="bold">5</text>
<path d="M123.5 697.5L123.5 718.5" stroke="#3c3c3c" stroke-width="0.9" fill="none"/>
<path d="M168.3 697.5L168.3 722" stroke="#3c3c3c" stroke-width="0.9" fill="none"/>
<path d="M129.45 708.3L162.35 708.3" stroke="#1c1c1c" stroke-width="1.1" fill="none"/><path d="M168.3 708.3L159.8 711.1L162.18 708.3L159.8 705.5Z" fill="#1c1c1c"/><path d="M123.5 708.3L132 705.5L129.62 708.3L132 711.1Z" fill="#1c1c1c"/>
<text transform="translate(146 705.6) scale(0.86 1)" font-family="Liberation Sans, sans-serif" font-size="12" fill="#222" text-anchor="middle">18</text>
<text transform="translate(22 719.5)" font-family="Liberation Sans, sans-serif" font-size="9" fill="#6a6b6d" text-anchor="start" textLength="33.5" lengthAdjust="spacing">Metal /</text>
<text transform="translate(65.5 719.5)" font-family="Liberation Sans, sans-serif" font-size="8.2" fill="#111" text-anchor="start" font-weight="bold" textLength="15.7" lengthAdjust="spacingAndGlyphs">金属</text>
<path d="M22 723.8L90 723.8L97.25 728.33" stroke="#1c1c1c" stroke-width="1.05" fill="none" stroke-linejoin="round"/><path d="M102 731.3L93.84 729.26L97.12 728.25L96.59 724.86Z" fill="#1c1c1c"/>
<text transform="translate(13.8 748.2)" font-family="Liberation Sans, sans-serif" font-size="9" fill="#6a6b6d" text-anchor="start" textLength="25" lengthAdjust="spacing">Ball /</text>
<text transform="translate(63.8 748.2)" font-family="Liberation Sans, sans-serif" font-size="8.2" fill="#111" text-anchor="start" textLength="6.8" lengthAdjust="spacingAndGlyphs">球</text>
<text transform="translate(75 748.2)" font-family="Liberation Sans, sans-serif" font-size="9" fill="#333" text-anchor="start" textLength="17" lengthAdjust="spacingAndGlyphs">Ø10</text>
<path d="M24.3 751.8L93.8 751.8L99.77 748" stroke="#1c1c1c" stroke-width="1.05" fill="none" stroke-linejoin="round"/><path d="M104.5 745L99.14 751.49L99.64 748.09L96.35 747.1Z" fill="#1c1c1c"/>
<g><path d="M113.5 717.4L131 717.8C134.5 718.2 135.5 720.1 140.5 720.1L166.6 720.1Q168.1 720.1 168.1 721.6L168.1 741.8Q168.1 743.3 166.6 743.3L139.5 743.3C135.5 743.3 134.5 746.4 130.5 746.6L113.5 746.2C106.5 744.1 102.5 740 102.5 731.5C102.5 723.5 106 719.9 113.5 717.4Z" fill="url(#gMet)"/><path d="M105.7 727.5L113 719.6L115.9 720.4L109 735Z" fill="#55555a" opacity="0.75"/><path d="M109 735L115.9 720.4L117 734.5L110.5 738.5Z" fill="#3e3e43" opacity="0.8"/><rect x="117.1" y="715.2" width="13.6" height="26.9" rx="1.6" fill="url(#gCol)"/><rect x="117.5" y="717.8" width="12.8" height="1.6" fill="#6a6a6e" opacity="0.8"/><rect x="140.5" y="720.9" width="26.1" height="5.4" fill="#48484d" opacity="0.55"/><rect x="144.5" y="729" width="19.6" height="8" rx="1" fill="#08080a" opacity="0.55"/><rect x="165.1" y="722.1" width="2.2" height="19.2" fill="#3c3c40" opacity="0.8"/></g>
<text transform="translate(187.75 740.2) scale(0.76 1)" font-family="Liberation Sans, sans-serif" font-size="25" fill="#58595b" text-anchor="start" font-weight="bold">K</text><text transform="translate(205.55 740.2) scale(0.86 1)" font-family="Liberation Sans, sans-serif" font-size="25" fill="#58595b" text-anchor="start" font-weight="bold">6</text>
<path d="M123.5 773.5L123.5 790" stroke="#3c3c3c" stroke-width="0.9" fill="none"/>
<path d="M168.3 773.5L168.3 797" stroke="#3c3c3c" stroke-width="0.9" fill="none"/>
<path d="M129.45 783.6L162.35 783.6" stroke="#1c1c1c" stroke-width="1.1" fill="none"/><path d="M168.3 783.6L159.8 786.4L162.18 783.6L159.8 780.8Z" fill="#1c1c1c"/><path d="M123.5 783.6L132 780.8L129.62 783.6L132 786.4Z" fill="#1c1c1c"/>
<text transform="translate(146 781.4) scale(0.86 1)" font-family="Liberation Sans, sans-serif" font-size="12" fill="#222" text-anchor="middle">18</text>
<text transform="translate(13 785.2)" font-family="Liberation Sans, sans-serif" font-size="9" fill="#6a6b6d" text-anchor="start" textLength="34" lengthAdjust="spacing">Metal /</text>
<text transform="translate(55 785.2)" font-family="Liberation Sans, sans-serif" font-size="8.2" fill="#111" text-anchor="start" font-weight="bold" textLength="15" lengthAdjust="spacingAndGlyphs">金属</text>
<path d="M13 787.3L83.8 787.3L101.04 793.58" stroke="#1c1c1c" stroke-width="1.05" fill="none" stroke-linejoin="round"/><path d="M106.3 795.5L97.89 795.2L100.89 793.53L99.67 790.32Z" fill="#1c1c1c"/>
<text transform="translate(8.8 803)" font-family="Liberation Sans, sans-serif" font-size="9" fill="#6a6b6d" text-anchor="start" textLength="24.2" lengthAdjust="spacing">Ball /</text>
<text transform="translate(58.8 803)" font-family="Liberation Sans, sans-serif" font-size="8.2" fill="#111" text-anchor="start" textLength="6.8" lengthAdjust="spacingAndGlyphs">球</text>
<text transform="translate(70 803)" font-family="Liberation Sans, sans-serif" font-size="9" fill="#333" text-anchor="start" textLength="17" lengthAdjust="spacingAndGlyphs">Ø10</text>
<path d="M8.8 805.3L85 805.3L98.19 813.14" stroke="#1c1c1c" stroke-width="1.05" fill="none" stroke-linejoin="round"/><path d="M103 816L94.79 814.15L98.05 813.06L97.45 809.68Z" fill="#1c1c1c"/>
<path d="M114.3 820.5q2.2 6 0.6 12.5h15.6q-1.6 -6.5 0.6 -12.5z" fill="#38383b"/><rect x="123.2" y="822" width="3.4" height="11" fill="#58585d" opacity="0.8"/><path d="M107.2 833.5h31l0.6 5l-1.8 2h-28.6l-1.8 -2z" fill="#434346"/><rect x="107.2" y="833.7" width="31" height="1.5" fill="#5e5e62"/><rect x="113.7" y="840" width="18" height="33" rx="1.5" fill="url(#gStud)"/><rect x="113.7" y="842.3" width="18" height="1" fill="#1c1c1c" opacity="0.55"/><rect x="113.7" y="844.9" width="18" height="1" fill="#1c1c1c" opacity="0.55"/><rect x="113.7" y="847.5" width="18" height="1" fill="#1c1c1c" opacity="0.55"/><rect x="113.7" y="850.1" width="18" height="1" fill="#1c1c1c" opacity="0.55"/><rect x="113.7" y="852.7" width="18" height="1" fill="#1c1c1c" opacity="0.55"/><rect x="113.7" y="855.3" width="18" height="1" fill="#1c1c1c" opacity="0.55"/><rect x="113.7" y="857.9" width="18" height="1" fill="#1c1c1c" opacity="0.55"/><rect x="113.7" y="860.5" width="18" height="1" fill="#1c1c1c" opacity="0.55"/><rect x="113.7" y="863.1" width="18" height="1" fill="#1c1c1c" opacity="0.55"/><rect x="113.7" y="865.7" width="18" height="1" fill="#1c1c1c" opacity="0.55"/><rect x="113.7" y="868.3" width="18" height="1" fill="#1c1c1c" opacity="0.55"/><rect x="113.7" y="870.9" width="18" height="1" fill="#1c1c1c" opacity="0.55"/>
<g><path d="M114.5 793.3L132 793.7C135.5 794.1 136.5 796 141.5 796L166.6 796Q168.1 796 168.1 797.5L168.1 820.1Q168.1 821.6 166.6 821.6L140.5 821.6C136.5 821.6 135.5 822.3 131.5 822.5L114.5 822.1C107.5 820 103.5 815.9 103.5 807.4C103.5 799.4 107 795.8 114.5 793.3Z" fill="url(#gMet)"/><path d="M106.7 803.4L114 795.5L116.9 796.3L110 810.9Z" fill="#55555a" opacity="0.75"/><path d="M110 810.9L116.9 796.3L118 810.4L111.5 814.4Z" fill="#3e3e43" opacity="0.8"/><rect x="118.1" y="791.1" width="13.6" height="26.9" rx="1.6" fill="url(#gCol)"/><rect x="118.5" y="793.7" width="12.8" height="1.6" fill="#6a6a6e" opacity="0.8"/><rect x="141.5" y="796.8" width="25.1" height="5.4" fill="#48484d" opacity="0.55"/><rect x="145.5" y="804.9" width="18.6" height="8" rx="1" fill="#08080a" opacity="0.55"/><rect x="165.1" y="798" width="2.2" height="21.6" fill="#3c3c40" opacity="0.8"/></g>
<path d="M47.5 809L85 809" stroke="#3c3c3c" stroke-width="0.9" fill="none"/>
<path d="M52.5 873.5L112.5 873.5" stroke="#3c3c3c" stroke-width="0.9" fill="none"/>
<path d="M65.5 814.95L65.5 867.55" stroke="#1c1c1c" stroke-width="1.1" fill="none"/><path d="M65.5 873.5L62.7 865L65.5 867.38L68.3 865Z" fill="#1c1c1c"/><path d="M65.5 809L68.3 817.5L65.5 815.12L62.7 817.5Z" fill="#1c1c1c"/>
<text transform="translate(62.4 841.6) rotate(-90) scale(0.86 1)" font-family="Liberation Sans, sans-serif" font-size="12" fill="#222" text-anchor="middle">25</text>
<path d="M87.5 840.5L107.5 840.5" stroke="#3c3c3c" stroke-width="0.9" fill="none"/>
<path d="M98 846.45L98 867.55" stroke="#1c1c1c" stroke-width="1.1" fill="none"/><path d="M98 873.5L95.2 865L98 867.38L100.8 865Z" fill="#1c1c1c"/><path d="M98 840.5L100.8 849L98 846.62L95.2 849Z" fill="#1c1c1c"/>
<text transform="translate(94.4 856.6) rotate(-90) scale(0.86 1)" font-family="Liberation Sans, sans-serif" font-size="12" fill="#222" text-anchor="middle">13</text>
<path d="M113.6 874.2L113.6 891" stroke="#3c3c3c" stroke-width="0.9" fill="none"/>
<path d="M133.2 874.2L133.2 891" stroke="#3c3c3c" stroke-width="0.9" fill="none"/>
<text transform="translate(116 885.8)" font-family="Liberation Sans, sans-serif" font-size="11.6" fill="#222" text-anchor="start" textLength="15.6" lengthAdjust="spacingAndGlyphs">M8</text>
<text transform="translate(187.75 817) scale(0.76 1)" font-family="Liberation Sans, sans-serif" font-size="25" fill="#58595b" text-anchor="start" font-weight="bold">K</text><text transform="translate(205.55 817) scale(0.86 1)" font-family="Liberation Sans, sans-serif" font-size="25" fill="#58595b" text-anchor="start" font-weight="bold">7</text>
<!-- mid -->
<defs>
<linearGradient id="gTube" x1="0" y1="0" x2="0" y2="1"><stop offset="0" stop-color="#2c2c30"/><stop offset="0.12" stop-color="#35353a"/><stop offset="0.36" stop-color="#45454b"/><stop offset="0.5" stop-color="#37373c"/><stop offset="0.8" stop-color="#202023"/><stop offset="1" stop-color="#161618"/></linearGradient>
<linearGradient id="gLock" x1="0" y1="0" x2="0" y2="1"><stop offset="0" stop-color="#1c1c1e"/><stop offset="0.1" stop-color="#2a2a2c"/><stop offset="0.13" stop-color="#4a4a4c"/><stop offset="0.2" stop-color="#78787a"/><stop offset="0.51" stop-color="#6c6c6e"/><stop offset="0.56" stop-color="#080808"/><stop offset="0.78" stop-color="#050505"/><stop offset="0.84" stop-color="#2e2e30"/><stop offset="1" stop-color="#262628"/></linearGradient>
<linearGradient id="gRed" x1="0" y1="0" x2="0" y2="1"><stop offset="0" stop-color="#d65a3a"/><stop offset="0.3" stop-color="#e0694a"/><stop offset="0.75" stop-color="#d85c3c"/><stop offset="1" stop-color="#c94f31"/></linearGradient>
<linearGradient id="gCap" x1="0" y1="0" x2="1" y2="0"><stop offset="0" stop-color="#f4f4f4"/><stop offset="0.5" stop-color="#dcdcdc"/><stop offset="1" stop-color="#9a9a9a"/></linearGradient>
</defs>
<rect x="244" y="170" width="276" height="155.8" rx="11" fill="none" stroke="#fbd58a" stroke-width="3.2" opacity="0.55"/><rect x="244" y="170" width="276" height="155.8" rx="11" fill="#fff" stroke="#f6b127" stroke-width="1.5"/>
<text transform="translate(257.2 191.8) scale(0.9 1)" font-family="Liberation Sans, sans-serif" font-size="9.2" fill="#6a6b6d" text-anchor="start" textLength="223" lengthAdjust="spacing">Protection tube, 10 mm stroke reduction</text>
<text transform="translate(257.2 203)" font-family="Liberation Sans, sans-serif" font-size="8.8" fill="#111" text-anchor="start" textLength="100" lengthAdjust="spacingAndGlyphs">保护管，行程减少10mm</text>
<text transform="translate(257.2 229.3)" font-family="Liberation Sans, sans-serif" font-size="9" fill="#6a6b6d" text-anchor="start" textLength="45.4" lengthAdjust="spacing">Plastics /</text>
<text transform="translate(307.5 229.3)" font-family="Liberation Sans, sans-serif" font-size="8.8" fill="#111" text-anchor="start" textLength="17.5" lengthAdjust="spacingAndGlyphs">塑料</text>
<path d="M257.2 232.5L338 232.5L344.05 235.69" stroke="#1c1c1c" stroke-width="1.05" fill="none" stroke-linejoin="round"/><path d="M349 238.3L340.71 236.87L343.9 235.61L343.14 232.27Z" fill="#1c1c1c"/>
<text transform="translate(392.3 225.6) rotate(-90) scale(0.83 1)" font-family="Liberation Sans, sans-serif" font-size="12" fill="#222" text-anchor="middle">Ø22,5</text>
<path d="M397.3 213.8L397.3 235.55" stroke="#1c1c1c" stroke-width="1.1" fill="none"/><path d="M397.3 241.5L394.5 233L397.3 235.38L400.1 233Z" fill="#1c1c1c"/>
<path d="M397.3 311L397.3 302.45" stroke="#1c1c1c" stroke-width="1.1" fill="none"/><path d="M397.3 296.5L400.1 305L397.3 302.62L394.5 305Z" fill="#1c1c1c"/>
<path d="M258.5 242.8L473.5 242.8Q477.6 243 477.6 247.5L477.6 290.5Q477.6 294.8 473.5 295L258.5 295A5.2 26.1 0 0 1 258.5 242.8Z" fill="url(#gTube)"/>
<ellipse cx="258" cy="268.9" rx="4.2" ry="24.8" fill="#1b1b1e"/>
<ellipse cx="259.6" cy="268.9" rx="3.6" ry="24.6" fill="url(#gTube)"/>
<rect x="254.2" y="262.5" width="2.2" height="11.5" rx="1" fill="#050506"/>
<rect x="470" y="243" width="7.5" height="51.5" rx="3" fill="#1e1e21" opacity="0.7"/>
<text transform="translate(481 272.6) scale(0.74 1)" font-family="Liberation Sans, sans-serif" font-size="25" fill="#58595b" text-anchor="start" font-weight="bold">S</text><text transform="translate(497.1 272.6) scale(0.66 1)" font-family="Liberation Sans, sans-serif" font-size="25" fill="#58595b" text-anchor="start" font-weight="bold">1</text>
<rect x="244" y="361.5" width="276" height="165.5" rx="11" fill="none" stroke="#fbd58a" stroke-width="3.2" opacity="0.55"/><rect x="244" y="361.5" width="276" height="165.5" rx="11" fill="#fff" stroke="#f6b127" stroke-width="1.5"/>
<text transform="translate(257.2 382.4) scale(0.9 1)" font-family="Liberation Sans, sans-serif" font-size="9.2" fill="#6a6b6d" text-anchor="start" textLength="208" lengthAdjust="spacing">Locking tube, 25 mm stroke reduction</text>
<text transform="translate(257.2 394)" font-family="Liberation Sans, sans-serif" font-size="8.8" fill="#111" text-anchor="start" textLength="100" lengthAdjust="spacingAndGlyphs">锁止管，行程减少25mm</text>
<text transform="translate(257.2 418.6)" font-family="Liberation Sans, sans-serif" font-size="9" fill="#6a6b6d" text-anchor="start" textLength="35.7" lengthAdjust="spacing">Metal /</text>
<text transform="translate(297.4 418.6)" font-family="Liberation Sans, sans-serif" font-size="8.8" fill="#111" text-anchor="start" font-weight="bold" textLength="17.8" lengthAdjust="spacingAndGlyphs">金属</text>
<path d="M257.2 422.5L307.3 422.5L313.63 429.77" stroke="#1c1c1c" stroke-width="1.05" fill="none" stroke-linejoin="round"/><path d="M317.3 434L310.09 429.67L313.52 429.65L314.01 426.26Z" fill="#1c1c1c"/>
<text transform="translate(345.4 421.4) rotate(-90) scale(0.86 1)" font-family="Liberation Sans, sans-serif" font-size="12" fill="#222" text-anchor="middle">Ø24</text>
<path d="M351 409.5L351 427.55" stroke="#1c1c1c" stroke-width="1.1" fill="none"/><path d="M351 433.5L348.2 425L351 427.38L353.8 425Z" fill="#1c1c1c"/>
<path d="M351 512L351 501.95" stroke="#1c1c1c" stroke-width="1.1" fill="none"/><path d="M351 496L353.8 504.5L351 502.12L348.2 504.5Z" fill="#1c1c1c"/>
<text transform="translate(391.4 420) rotate(-90) scale(0.86 1)" font-family="Liberation Sans, sans-serif" font-size="12" fill="#222" text-anchor="middle">Ø27</text>
<path d="M397.3 408.3L397.3 425.85" stroke="#1c1c1c" stroke-width="1.1" fill="none"/><path d="M397.3 431.8L394.5 423.3L397.3 425.68L400.1 423.3Z" fill="#1c1c1c"/>
<path d="M397.3 513L397.3 503.45" stroke="#1c1c1c" stroke-width="1.1" fill="none"/><path d="M397.3 497.5L400.1 506L397.3 503.62L394.5 506Z" fill="#1c1c1c"/>
<rect x="282.4" y="443.8" width="10" height="42.6" rx="3" fill="url(#gCap)" stroke="#b9b9b9" stroke-width="0.8"/>
<rect x="289.7" y="437.5" width="84" height="55" rx="1.5" fill="url(#gLock)"/>
<circle cx="297.8" cy="465.8" r="4.6" fill="#e9e9e9"/>
<circle cx="297.4" cy="465.4" r="3.4" fill="#f6f6f6"/>
<path d="M373.8 435L406 435Q407.6 435 407.7 437L408 446L410 446Q411.3 446 411.3 447.5L411.3 465L442 465Q445 465.2 445 468L445 494.5Q445 497.4 442 497.5L405 497.5Q402.6 497.3 402.5 494.8L402.3 494L373.8 494Q372.2 494 372.2 492.3L372.2 436.7Q372.2 435 373.8 435Z" fill="url(#gRed)"/>
<path d="M402.6 470L402.6 494" stroke="#c44b2e" stroke-width="1.2" opacity="0.3"/>
<path d="M448 464.3L474 464.3" stroke="#3c3c3c" stroke-width="0.9" fill="none"/>
<path d="M448 497.5L474 497.5" stroke="#3c3c3c" stroke-width="0.9" fill="none"/>
<path d="M466.8 470.25L466.8 491.55" stroke="#1c1c1c" stroke-width="1.1" fill="none"/><path d="M466.8 497.5L464 489L466.8 491.38L469.6 489Z" fill="#1c1c1c"/><path d="M466.8 464.3L469.6 472.8L466.8 470.42L464 472.8Z" fill="#1c1c1c"/>
<text transform="translate(461.2 480.8) rotate(-90) scale(0.86 1)" font-family="Liberation Sans, sans-serif" font-size="12" fill="#222" text-anchor="middle">14</text>
<text transform="translate(481.2 454.4) scale(0.74 1)" font-family="Liberation Sans, sans-serif" font-size="25" fill="#58595b" text-anchor="start" font-weight="bold">S</text><text transform="translate(496.8 454.4) scale(0.8 1)" font-family="Liberation Sans, sans-serif" font-size="25" fill="#58595b" text-anchor="start" font-weight="bold">2</text>
<rect x="254.5" y="559.5" width="264.8" height="35" fill="#fee5b4"/>
<rect x="254.5" y="594.5" width="264.8" height="54.3" fill="#fdc455"/>
<text transform="translate(289.5 659.91) scale(0.9 1)" font-family="Liberation Sans, sans-serif" font-size="11" fill="#111" text-anchor="middle" font-weight="bold">50</text>
<text transform="translate(365.4 659.91) scale(0.9 1)" font-family="Liberation Sans, sans-serif" font-size="11" fill="#111" text-anchor="middle" font-weight="bold">154</text>
<text transform="translate(427.8 662.11) scale(0.9 1)" font-family="Liberation Sans, sans-serif" font-size="10" fill="#111" text-anchor="middle" font-weight="bold">*</text>
<text transform="translate(484.3 659.91) scale(0.87 1)" font-family="Liberation Sans, sans-serif" font-size="11" fill="#222" text-anchor="middle">697567</text>
<rect x="254.5" y="662.41" width="264.8" height="13.61" fill="#d1d2d4"/>
<path d="M254.5 662.41L519.3 662.41" stroke="#55565a" stroke-width="0.9" fill="none"/>
<text transform="translate(289.5 673.52) scale(0.9 1)" font-family="Liberation Sans, sans-serif" font-size="11" fill="#111" text-anchor="middle" font-weight="bold">75</text>
<text transform="translate(365.4 673.52) scale(0.9 1)" font-family="Liberation Sans, sans-serif" font-size="11" fill="#111" text-anchor="middle" font-weight="bold">204</text>
<text transform="translate(427.8 675.72) scale(0.9 1)" font-family="Liberation Sans, sans-serif" font-size="10" fill="#111" text-anchor="middle" font-weight="bold">*</text>
<text transform="translate(484.3 673.52) scale(0.87 1)" font-family="Liberation Sans, sans-serif" font-size="11" fill="#222" text-anchor="middle">9997RF</text>
<path d="M254.5 676.02L519.3 676.02" stroke="#55565a" stroke-width="0.9" fill="none"/>
<text transform="translate(289.5 687.13) scale(0.9 1)" font-family="Liberation Sans, sans-serif" font-size="11" fill="#111" text-anchor="middle" font-weight="bold">100</text>
<text transform="translate(365.4 687.13) scale(0.9 1)" font-family="Liberation Sans, sans-serif" font-size="11" fill="#111" text-anchor="middle" font-weight="bold">255</text>
<text transform="translate(427.8 689.33) scale(0.9 1)" font-family="Liberation Sans, sans-serif" font-size="10" fill="#111" text-anchor="middle" font-weight="bold">*</text>
<text transform="translate(484.3 687.13) scale(0.87 1)" font-family="Liberation Sans, sans-serif" font-size="11" fill="#222" text-anchor="middle">697605</text>
<rect x="254.5" y="689.63" width="264.8" height="13.61" fill="#d1d2d4"/>
<path d="M254.5 689.63L519.3 689.63" stroke="#55565a" stroke-width="0.9" fill="none"/>
<text transform="translate(289.5 700.74) scale(0.9 1)" font-family="Liberation Sans, sans-serif" font-size="11" fill="#111" text-anchor="middle" font-weight="bold">125</text>
<text transform="translate(365.4 700.74) scale(0.9 1)" font-family="Liberation Sans, sans-serif" font-size="11" fill="#111" text-anchor="middle" font-weight="bold">304</text>
<text transform="translate(427.8 702.94) scale(0.9 1)" font-family="Liberation Sans, sans-serif" font-size="10" fill="#111" text-anchor="middle" font-weight="bold">*</text>
<text transform="translate(484.3 700.74) scale(0.87 1)" font-family="Liberation Sans, sans-serif" font-size="11" fill="#222" text-anchor="middle">9998RA</text>
<path d="M254.5 703.24L519.3 703.24" stroke="#55565a" stroke-width="0.9" fill="none"/>
<text transform="translate(289.5 714.35) scale(0.9 1)" font-family="Liberation Sans, sans-serif" font-size="11" fill="#111" text-anchor="middle" font-weight="bold">150</text>
<text transform="translate(365.4 714.35) scale(0.9 1)" font-family="Liberation Sans, sans-serif" font-size="11" fill="#111" text-anchor="middle" font-weight="bold">356</text>
<text transform="translate(427.8 716.55) scale(0.9 1)" font-family="Liberation Sans, sans-serif" font-size="10" fill="#111" text-anchor="middle" font-weight="bold">*</text>
<text transform="translate(484.3 714.35) scale(0.87 1)" font-family="Liberation Sans, sans-serif" font-size="11" fill="#222" text-anchor="middle">697656</text>
<rect x="254.5" y="716.86" width="264.8" height="13.61" fill="#d1d2d4"/>
<path d="M254.5 716.86L519.3 716.86" stroke="#55565a" stroke-width="0.9" fill="none"/>
<text transform="translate(289.5 727.96) scale(0.9 1)" font-family="Liberation Sans, sans-serif" font-size="11" fill="#111" text-anchor="middle" font-weight="bold">175</text>
<text transform="translate(365.4 727.96) scale(0.9 1)" font-family="Liberation Sans, sans-serif" font-size="11" fill="#111" text-anchor="middle" font-weight="bold">404</text>
<text transform="translate(427.8 730.16) scale(0.9 1)" font-family="Liberation Sans, sans-serif" font-size="10" fill="#111" text-anchor="middle" font-weight="bold">*</text>
<text transform="translate(484.3 727.96) scale(0.87 1)" font-family="Liberation Sans, sans-serif" font-size="11" fill="#222" text-anchor="middle">9999RW</text>
<path d="M254.5 730.47L519.3 730.47" stroke="#55565a" stroke-width="0.9" fill="none"/>
<text transform="translate(289.5 741.57) scale(0.9 1)" font-family="Liberation Sans, sans-serif" font-size="11" fill="#111" text-anchor="middle" font-weight="bold">200</text>
<text transform="translate(365.4 741.57) scale(0.9 1)" font-family="Liberation Sans, sans-serif" font-size="11" fill="#111" text-anchor="middle" font-weight="bold">462</text>
<text transform="translate(427.8 743.77) scale(0.9 1)" font-family="Liberation Sans, sans-serif" font-size="10" fill="#111" text-anchor="middle" font-weight="bold">*</text>
<text transform="translate(484.3 741.57) scale(0.87 1)" font-family="Liberation Sans, sans-serif" font-size="11" fill="#222" text-anchor="middle">697699</text>
<rect x="254.5" y="744.08" width="264.8" height="13.61" fill="#d1d2d4"/>
<path d="M254.5 744.08L519.3 744.08" stroke="#55565a" stroke-width="0.9" fill="none"/>
<text transform="translate(289.5 755.18) scale(0.9 1)" font-family="Liberation Sans, sans-serif" font-size="11" fill="#111" text-anchor="middle" font-weight="bold">225</text>
<text transform="translate(365.4 755.18) scale(0.9 1)" font-family="Liberation Sans, sans-serif" font-size="11" fill="#111" text-anchor="middle" font-weight="bold">504</text>
<text transform="translate(427.8 757.38) scale(0.9 1)" font-family="Liberation Sans, sans-serif" font-size="10" fill="#111" text-anchor="middle" font-weight="bold">*</text>
<text transform="translate(484.3 755.18) scale(0.87 1)" font-family="Liberation Sans, sans-serif" font-size="11" fill="#222" text-anchor="middle">2379SU</text>
<path d="M254.5 757.69L519.3 757.69" stroke="#55565a" stroke-width="0.9" fill="none"/>
<text transform="translate(289.5 768.79) scale(0.9 1)" font-family="Liberation Sans, sans-serif" font-size="11" fill="#111" text-anchor="middle" font-weight="bold">250</text>
<text transform="translate(365.4 768.79) scale(0.9 1)" font-family="Liberation Sans, sans-serif" font-size="11" fill="#111" text-anchor="middle" font-weight="bold">560</text>
<text transform="translate(427.8 770.99) scale(0.9 1)" font-family="Liberation Sans, sans-serif" font-size="10" fill="#111" text-anchor="middle" font-weight="bold">*</text>
<text transform="translate(484.3 768.79) scale(0.87 1)" font-family="Liberation Sans, sans-serif" font-size="11" fill="#222" text-anchor="middle">697737</text>
<path d="M254.5 648.8L519.3 648.8" stroke="#55565a" stroke-width="1" fill="none"/>
<path d="M324.5 594.5L324.5 771.3" stroke="#55565a" stroke-width="1" fill="none"/>
<path d="M406.3 594.5L406.3 771.3" stroke="#55565a" stroke-width="1" fill="none"/>
<path d="M449.3 594.5L449.3 771.3" stroke="#55565a" stroke-width="1" fill="none"/>
<rect x="254.5" y="559.5" width="264.8" height="211.8" fill="none" stroke="#55565a" stroke-width="1.2"/>
<text transform="translate(289.4 587) scale(0.88 1)" font-family="Liberation Sans, sans-serif" font-size="14.5" fill="#111" text-anchor="middle" font-weight="bold">A</text>
<text transform="translate(365.2 587) scale(0.88 1)" font-family="Liberation Sans, sans-serif" font-size="14.5" fill="#111" text-anchor="middle" font-weight="bold">B</text>
<text transform="translate(289.5 631) scale(0.84 1)" font-family="Liberation Sans, sans-serif" font-size="10" fill="#222" text-anchor="middle" font-weight="bold">Stroke</text>
<text transform="translate(280.4 642.8)" font-family="Liberation Sans, sans-serif" font-size="9" fill="#222" text-anchor="start" font-weight="bold" textLength="18" lengthAdjust="spacingAndGlyphs">行程</text>
<text transform="translate(365.4 631) scale(0.84 1)" font-family="Liberation Sans, sans-serif" font-size="10" fill="#222" text-anchor="middle" font-weight="bold">Extended length</text>
<text transform="translate(345 642.8)" font-family="Liberation Sans, sans-serif" font-size="9" fill="#222" text-anchor="start" font-weight="bold" textLength="36.5" lengthAdjust="spacingAndGlyphs">弹伸长度</text>
<text transform="translate(427.8 619.8) scale(0.84 1)" font-family="Liberation Sans, sans-serif" font-size="10" fill="#222" text-anchor="middle" font-weight="bold">Force</text>
<text transform="translate(419 630.8)" font-family="Liberation Sans, sans-serif" font-size="9" fill="#222" text-anchor="start" font-weight="bold" textLength="17.5" lengthAdjust="spacingAndGlyphs">力值</text>
<text transform="translate(417.2 643.4) scale(0.84 1)" font-family="Liberation Sans, sans-serif" font-size="9.6" fill="#222" text-anchor="start" font-weight="bold">F</text>
<text transform="translate(421.6 644.8) scale(0.84 1)" font-family="Liberation Sans, sans-serif" font-size="5.5" fill="#222" text-anchor="start" font-weight="bold">1</text>
<text transform="translate(425.6 643.4) scale(0.84 1)" font-family="Liberation Sans, sans-serif" font-size="9.6" fill="#222" text-anchor="start" font-weight="bold">[N]</text>
<text transform="translate(484.3 631) scale(0.84 1)" font-family="Liberation Sans, sans-serif" font-size="10" fill="#222" text-anchor="middle" font-weight="bold">Ref.-No.</text>
<text transform="translate(469.8 642.8)" font-family="Liberation Sans, sans-serif" font-size="9" fill="#222" text-anchor="start" font-weight="bold" textLength="27.5" lengthAdjust="spacingAndGlyphs">零件号</text>
<text transform="translate(254.5 784.8)" font-family="Liberation Sans, sans-serif" font-size="8.6" fill="#6a6b6d" text-anchor="start">*</text>
<text transform="translate(262.5 784.8) scale(0.9 1)" font-family="Liberation Sans, sans-serif" font-size="8.6" fill="#6a6b6d" text-anchor="start">F</text>
<text transform="translate(267 786.4)" font-family="Liberation Sans, sans-serif" font-size="4.6" fill="#6a6b6d" text-anchor="start">1</text>
<text transform="translate(269.6 784.8) scale(0.9 1)" font-family="Liberation Sans, sans-serif" font-size="8.6" fill="#6a6b6d" text-anchor="start" textLength="65" lengthAdjust="spacing">-Values from</text>
<text transform="translate(339 784.8) scale(0.9 1)" font-family="Liberation Sans, sans-serif" font-size="8.6" fill="#6a6b6d" text-anchor="start" textLength="137" lengthAdjust="spacing">50 - 900 N in steps of 25 N</text>
<text transform="translate(254.5 795.8)" font-family="Liberation Sans, sans-serif" font-size="8.6" fill="#111" text-anchor="start">*</text>
<text transform="translate(262 795.8)" font-family="Liberation Sans, sans-serif" font-size="8.6" fill="#111" text-anchor="start" textLength="52" lengthAdjust="spacingAndGlyphs">F1力值范围：</text>
<text transform="translate(325 795.8)" font-family="Liberation Sans, sans-serif" font-size="8.6" fill="#111" text-anchor="start" textLength="85.5" lengthAdjust="spacingAndGlyphs">50–900N,幅度为25N</text>
<!-- right -->
<g transform="translate(1279 0) scale(-1 1)"><path d="M677.5 157.1C659.5 154.5 648.5 151.4 639.5 151.4A27 27 0 0 0 639.5 205.4C648.5 205.4 659.5 202.3 677.5 199.7Q681.5 199.4 681.5 195.7L681.5 161.1Q681.5 157.4 677.5 157.1Z" fill="#9b9d99" transform="translate(0.4 0.9)"/><path d="M677.5 157.1C659.5 154.5 648.5 151.4 639.5 151.4A27 27 0 0 0 639.5 205.4C648.5 205.4 659.5 202.3 677.5 199.7Q681.5 199.4 681.5 195.7L681.5 161.1Q681.5 157.4 677.5 157.1Z" fill="url(#gEye)"/><rect x="676.5" y="159.1" width="4.8" height="38.6" fill="#a0a29e" opacity="0.6"/><circle cx="639.2" cy="178.1" r="11.5" fill="#cfd1cd"/><circle cx="639.9" cy="178.9" r="11.1" fill="#a4a6a2"/><circle cx="639.5" cy="178.4" r="10.6" fill="#fff"/></g>
<text transform="translate(546.4 188.8) scale(0.86 1)" font-family="Liberation Sans, sans-serif" font-size="25" fill="#58595b" text-anchor="start" font-weight="bold">D</text><text transform="translate(565.8 188.8) scale(0.66 1)" font-family="Liberation Sans, sans-serif" font-size="25" fill="#58595b" text-anchor="start" font-weight="bold">1</text>
<g transform="translate(1279 0) scale(-1 1)"><path d="M677.5 275.7C659.5 273.1 648.5 269.2 639.5 269.2A27 27 0 0 0 639.5 323.2C648.5 323.2 659.5 319.3 677.5 316.7Q681.5 316.4 681.5 312.7L681.5 279.7Q681.5 276 677.5 275.7Z" fill="#9b9d99" transform="translate(0.4 0.9)"/><path d="M677.5 275.7C659.5 273.1 648.5 269.2 639.5 269.2A27 27 0 0 0 639.5 323.2C648.5 323.2 659.5 319.3 677.5 316.7Q681.5 316.4 681.5 312.7L681.5 279.7Q681.5 276 677.5 275.7Z" fill="url(#gEye)"/><rect x="676.5" y="277.7" width="4.8" height="37" fill="#a0a29e" opacity="0.6"/><circle cx="639.2" cy="295.9" r="13.9" fill="#cfd1cd"/><circle cx="639.9" cy="296.7" r="13.5" fill="#a4a6a2"/><circle cx="639.5" cy="296.2" r="13" fill="#fff"/></g>
<text transform="translate(546.4 307) scale(0.86 1)" font-family="Liberation Sans, sans-serif" font-size="25" fill="#58595b" text-anchor="start" font-weight="bold">D</text><text transform="translate(566 307) scale(0.86 1)" font-family="Liberation Sans, sans-serif" font-size="25" fill="#58595b" text-anchor="start" font-weight="bold">2</text>
<g transform="translate(764.7 -1) scale(-1 1)"><rect x="146.5" y="406.6" width="21.7" height="27.6" rx="2" fill="url(#gNut)"/><rect x="165" y="408" width="3.2" height="25" fill="#7f7f7f" opacity="0.6"/><rect x="145" y="404.6" width="5" height="6" fill="#6a6a6a"/><path d="M97.5 402.6L142 402.2Q146 402.4 147.4 407L148 432Q147 436.4 142.5 436.6L97.5 436.6L92.3 428.8L92.3 411.5Z" fill="url(#gClev)"/><path d="M97.8 404.3Q120 405.8 143.6 403.6" stroke="#868686" stroke-width="2.2" fill="none"/><path d="M91 414.6L136.5 414.6Q140.3 414.8 140.3 418.5L140.3 425Q140.3 428.6 136.5 428.8L91 428.8Z" fill="#fff"/><path d="M92.3 414.6L136.5 414.6Q140.3 414.8 140.3 418.5" stroke="#b5b5b5" stroke-width="0.8" fill="none"/><rect x="102.3" y="413.6" width="15" height="16" fill="url(#gPin)"/><rect x="102.6" y="436" width="13.6" height="4" rx="1.3" fill="url(#gPinH)"/></g>
<text transform="translate(546.4 428.8) scale(0.86 1)" font-family="Liberation Sans, sans-serif" font-size="25" fill="#58595b" text-anchor="start" font-weight="bold">D</text><text transform="translate(566 428.8) scale(0.86 1)" font-family="Liberation Sans, sans-serif" font-size="25" fill="#58595b" text-anchor="start" font-weight="bold">3</text>
<g transform="translate(1267.3 0) scale(-1 1)"><path d="M615.5 488.8C626.5 487.6 646.5 487.4 662.8 489.2Q670.8 490 670.8 499L670.8 522.3Q670.8 530.8 661.8 531L613.5 531.3C601.5 530.3 596.5 521.3 596.5 511.81C596.5 500 603.5 490.5 615.5 488.8Z" fill="url(#gSock)"/><rect x="614.7" y="488" width="19.6" height="25.8" rx="1" fill="#0c0c0e"/><rect x="615.1" y="491.5" width="18.8" height="3.3" fill="#7b7b7f"/><rect x="615.1" y="497.4" width="18.8" height="3.3" fill="#66666a"/><path d="M621.8 510.6A3 3 0 1 1 627.8 509.4" stroke="#9c9ca2" stroke-width="1.7" fill="none"/><circle cx="625.4" cy="509.6" r="1" fill="#6e6e73"/></g>
<text transform="translate(546.4 520.2) scale(0.86 1)" font-family="Liberation Sans, sans-serif" font-size="25" fill="#58595b" text-anchor="start" font-weight="bold">D</text><text transform="translate(566 520.2) scale(0.86 1)" font-family="Liberation Sans, sans-serif" font-size="25" fill="#58595b" text-anchor="start" font-weight="bold">4</text>
<rect x="630.5" y="618.5" width="20" height="6.5" rx="1.5" fill="#38383b"/><path d="M624.8 624.5h31.4l0.6 5.2l-1.8 2h-29l-1.8 -2z" fill="#47474a"/><rect x="624.8" y="624.7" width="31.4" height="1.6" fill="#626265"/><rect x="631.3" y="631.2" width="18.4" height="32.3" rx="1.8" fill="url(#gStud)"/><rect x="631.3" y="633.1" width="18.4" height="1" fill="#1e1e1e" opacity="0.55"/><rect x="631.3" y="635.65" width="18.4" height="1" fill="#1e1e1e" opacity="0.55"/><rect x="631.3" y="638.2" width="18.4" height="1" fill="#1e1e1e" opacity="0.55"/><rect x="631.3" y="640.75" width="18.4" height="1" fill="#1e1e1e" opacity="0.55"/><rect x="631.3" y="643.3" width="18.4" height="1" fill="#1e1e1e" opacity="0.55"/><rect x="631.3" y="645.85" width="18.4" height="1" fill="#1e1e1e" opacity="0.55"/><rect x="631.3" y="648.4" width="18.4" height="1" fill="#1e1e1e" opacity="0.55"/><rect x="631.3" y="650.95" width="18.4" height="1" fill="#1e1e1e" opacity="0.55"/><rect x="631.3" y="653.5" width="18.4" height="1" fill="#1e1e1e" opacity="0.55"/><rect x="631.3" y="656.05" width="18.4" height="1" fill="#1e1e1e" opacity="0.55"/><rect x="631.3" y="658.6" width="18.4" height="1" fill="#1e1e1e" opacity="0.55"/><rect x="631.3" y="661.15" width="18.4" height="1" fill="#1e1e1e" opacity="0.55"/>
<g transform="translate(1265 0) scale(-1 1)"><path d="M615 578.1C626 576.9 646 576.7 661 578.5Q669 579.3 669 588.3L669 610.8Q669 619.3 660 619.5L613 619.8C601 618.8 596 609.8 596 600.67C596 589.3 603 579.8 615 578.1Z" fill="url(#gSock)"/><rect x="613.9" y="577.3" width="19.6" height="25.8" rx="1" fill="#0c0c0e"/><rect x="614.3" y="580.8" width="18.8" height="3.3" fill="#7b7b7f"/><rect x="614.3" y="586.7" width="18.8" height="3.3" fill="#66666a"/><path d="M621 599.9A3 3 0 1 1 627 598.7" stroke="#9c9ca2" stroke-width="1.7" fill="none"/><circle cx="624.6" cy="598.9" r="1" fill="#6e6e73"/></g>
<text transform="translate(546.4 609.8) scale(0.86 1)" font-family="Liberation Sans, sans-serif" font-size="25" fill="#58595b" text-anchor="start" font-weight="bold">D</text><text transform="translate(566 609.8) scale(0.86 1)" font-family="Liberation Sans, sans-serif" font-size="25" fill="#58595b" text-anchor="start" font-weight="bold">5</text>
<g transform="translate(1256.3 0) scale(-1 1)"><path d="M606.3 714L623.8 714.4C627.3 714.8 628.3 716.7 633.3 716.7L659.5 716.7Q661 716.7 661 718.2L661 738.4Q661 739.9 659.5 739.9L632.3 739.9C628.3 739.9 627.3 743 623.3 743.2L606.3 742.8C599.3 740.7 595.3 736.6 595.3 728.1C595.3 720.1 598.8 716.5 606.3 714Z" fill="url(#gMet)"/><path d="M598.5 724.1L605.8 716.2L608.7 717L601.8 731.6Z" fill="#55555a" opacity="0.75"/><path d="M601.8 731.6L608.7 717L609.8 731.1L603.3 735.1Z" fill="#3e3e43" opacity="0.8"/><rect x="609.9" y="711.8" width="13.6" height="26.9" rx="1.6" fill="url(#gCol)"/><rect x="610.3" y="714.4" width="12.8" height="1.6" fill="#6a6a6e" opacity="0.8"/><rect x="633.3" y="717.5" width="26.2" height="5.4" fill="#48484d" opacity="0.55"/><rect x="637.3" y="725.6" width="19.7" height="8" rx="1" fill="#08080a" opacity="0.55"/><rect x="658" y="718.7" width="2.2" height="19.2" fill="#3c3c40" opacity="0.8"/></g>
<text transform="translate(546.4 740.4) scale(0.86 1)" font-family="Liberation Sans, sans-serif" font-size="25" fill="#58595b" text-anchor="start" font-weight="bold">D</text><text transform="translate(566 740.4) scale(0.86 1)" font-family="Liberation Sans, sans-serif" font-size="25" fill="#58595b" text-anchor="start" font-weight="bold">6</text>
<path d="M632.4 816.7q2.2 6 0.6 12.5h15.6q-1.6 -6.5 0.6 -12.5z" fill="#38383b"/><rect x="641.3" y="818.2" width="3.4" height="11" fill="#58585d" opacity="0.8"/><path d="M625.3 829.7h31l0.6 5l-1.8 2h-28.6l-1.8 -2z" fill="#434346"/><rect x="625.3" y="829.9" width="31" height="1.5" fill="#5e5e62"/><rect x="631.8" y="836.2" width="18" height="33" rx="1.5" fill="url(#gStud)"/><rect x="631.8" y="838.5" width="18" height="1" fill="#1c1c1c" opacity="0.55"/><rect x="631.8" y="841.1" width="18" height="1" fill="#1c1c1c" opacity="0.55"/><rect x="631.8" y="843.7" width="18" height="1" fill="#1c1c1c" opacity="0.55"/><rect x="631.8" y="846.3" width="18" height="1" fill="#1c1c1c" opacity="0.55"/><rect x="631.8" y="848.9" width="18" height="1" fill="#1c1c1c" opacity="0.55"/><rect x="631.8" y="851.5" width="18" height="1" fill="#1c1c1c" opacity="0.55"/><rect x="631.8" y="854.1" width="18" height="1" fill="#1c1c1c" opacity="0.55"/><rect x="631.8" y="856.7" width="18" height="1" fill="#1c1c1c" opacity="0.55"/><rect x="631.8" y="859.3" width="18" height="1" fill="#1c1c1c" opacity="0.55"/><rect x="631.8" y="861.9" width="18" height="1" fill="#1c1c1c" opacity="0.55"/><rect x="631.8" y="864.5" width="18" height="1" fill="#1c1c1c" opacity="0.55"/><rect x="631.8" y="867.1" width="18" height="1" fill="#1c1c1c" opacity="0.55"/>
<g transform="translate(1256.8 0) scale(-1 1)"><path d="M606.3 789.4L623.8 789.8C627.3 790.2 628.3 792.1 633.3 792.1L660 792.1Q661.5 792.1 661.5 793.6L661.5 816Q661.5 817.5 660 817.5L632.3 817.5C628.3 817.5 627.3 818.4 623.3 818.6L606.3 818.2C599.3 816.1 595.3 812 595.3 803.5C595.3 795.5 598.8 791.9 606.3 789.4Z" fill="url(#gMet)"/><path d="M598.5 799.5L605.8 791.6L608.7 792.4L601.8 807Z" fill="#55555a" opacity="0.75"/><path d="M601.8 807L608.7 792.4L609.8 806.5L603.3 810.5Z" fill="#3e3e43" opacity="0.8"/><rect x="609.9" y="787.2" width="13.6" height="26.9" rx="1.6" fill="url(#gCol)"/><rect x="610.3" y="789.8" width="12.8" height="1.6" fill="#6a6a6e" opacity="0.8"/><rect x="633.3" y="792.9" width="26.7" height="5.4" fill="#48484d" opacity="0.55"/><rect x="637.3" y="801" width="20.2" height="8" rx="1" fill="#08080a" opacity="0.55"/><rect x="658.5" y="794.1" width="2.2" height="21.4" fill="#3c3c40" opacity="0.8"/></g>
<text transform="translate(546.4 817.2) scale(0.86 1)" font-family="Liberation Sans, sans-serif" font-size="25" fill="#58595b" text-anchor="start" font-weight="bold">D</text><text transform="translate(566 817.2) scale(0.86 1)" font-family="Liberation Sans, sans-serif" font-size="25" fill="#58595b" text-anchor="start" font-weight="bold">7</text>
</svg>
</body></html>
